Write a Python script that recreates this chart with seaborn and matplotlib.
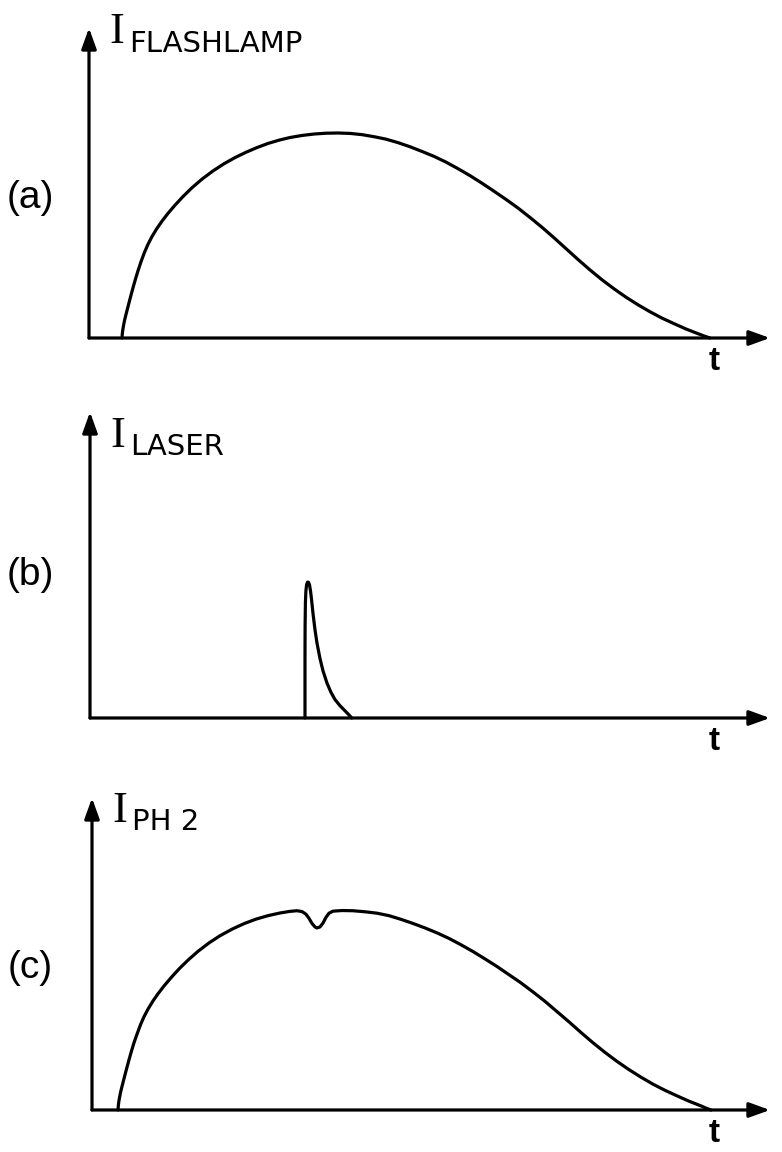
import matplotlib
matplotlib.use("Agg")
import matplotlib.pyplot as plt
import seaborn as sns

# --- waveform samples (time in a.u., intensity in a.u.) ---
flash_t = [0.33, 0.333, 0.338, 0.345, 0.355, 0.37, 0.39, 0.415, 0.44, 0.465,
           0.49, 0.52, 0.555, 0.59, 0.63, 0.68, 0.73, 0.79, 0.86, 0.94,
           1.03, 1.13, 1.24, 1.35, 1.46, 1.57, 1.68, 1.79, 1.90, 2.01,
           2.13, 2.25, 2.37, 2.49, 2.61, 2.73, 2.85, 2.97, 3.09, 3.21,
           3.33, 3.45, 3.57, 3.69, 3.81, 3.93, 4.05, 4.17, 4.29, 4.41,
           4.53, 4.65, 4.77, 4.89, 5.01, 5.13, 5.25, 5.37, 5.49, 5.61,
           5.73, 5.85, 5.97, 6.09, 6.15, 6.21]
flash_i = [0.00, 0.02, 0.04, 0.06, 0.085, 0.115, 0.153, 0.20, 0.245, 0.288,
           0.328, 0.372, 0.418, 0.457, 0.495, 0.535, 0.57, 0.608, 0.648, 0.69,
           0.733, 0.775, 0.815, 0.85, 0.88, 0.906, 0.929, 0.949, 0.965, 0.978,
           0.988, 0.995, 0.999, 1.00, 0.998, 0.992, 0.982, 0.97, 0.953, 0.933,
           0.91, 0.886, 0.858, 0.826, 0.792, 0.755, 0.716, 0.676, 0.634, 0.588,
           0.54, 0.489, 0.436, 0.383, 0.332, 0.284, 0.24, 0.199, 0.162, 0.128,
           0.097, 0.07, 0.044, 0.021, 0.01, 0.00]

laser_t = [2.15, 2.15, 2.151, 2.154, 2.159, 2.166, 2.175, 2.185, 2.195, 2.205,
           2.215, 2.23, 2.25, 2.27, 2.30, 2.33, 2.37, 2.41, 2.45, 2.50,
           2.55, 2.59, 2.617]
laser_i = [0.00, 0.30, 0.45, 0.56, 0.62, 0.65, 0.663, 0.662, 0.65, 0.62,
           0.58, 0.51, 0.43, 0.365, 0.29, 0.23, 0.17, 0.125, 0.09, 0.06,
           0.035, 0.015, 0.00]

ph2_t = [0.26, 0.263, 0.268, 0.275, 0.285, 0.30, 0.32, 0.345, 0.37, 0.395,
         0.42, 0.45, 0.485, 0.52, 0.56, 0.61, 0.66, 0.72, 0.79, 0.87,
         0.96, 1.06, 1.17, 1.28, 1.40, 1.52, 1.64, 1.76, 1.88, 1.98,
         2.05, 2.10, 2.14, 2.17, 2.20, 2.23, 2.25, 2.28, 2.31, 2.34,
         2.37, 2.41, 2.50, 2.61, 2.73, 2.85, 2.97, 3.09, 3.21, 3.33,
         3.45, 3.57, 3.69, 3.81, 3.93, 4.05, 4.17, 4.29, 4.41, 4.53,
         4.65, 4.77, 4.89, 5.01, 5.13, 5.25, 5.37, 5.49, 5.61, 5.73,
         5.85, 5.97, 6.09, 6.14, 6.19]
ph2_i = [0.00, 0.02, 0.04, 0.06, 0.085, 0.115, 0.153, 0.20, 0.245, 0.288,
         0.328, 0.37, 0.416, 0.455, 0.492, 0.532, 0.567, 0.605, 0.645, 0.688,
         0.731, 0.774, 0.815, 0.85, 0.882, 0.909, 0.931, 0.948, 0.961, 0.969,
         0.972, 0.968, 0.955, 0.935, 0.91, 0.893, 0.888, 0.893, 0.912, 0.94,
         0.96, 0.97, 0.973, 0.972, 0.967, 0.96, 0.948, 0.93, 0.91, 0.888,
         0.864, 0.837, 0.806, 0.773, 0.737, 0.70, 0.66, 0.62, 0.576, 0.53,
         0.48, 0.43, 0.378, 0.328, 0.281, 0.237, 0.197, 0.16, 0.126, 0.096,
         0.069, 0.043, 0.02, 0.009, 0.00]

panel_tags = ["(a)", "(b)", "(c)"]
axis_names = ["FLASHLAMP", "LASER", "PH 2"]
time_label = "t"

# --- layout (pixels) ---
W, H = 782, 1152
X_TIP = 770          # right end of the time axes
PX_T = 100.0         # pixels per time unit
PX_I = 205.0         # pixels per intensity unit
layout = [
    dict(x0=89, base=338, top=28, sym_y=43, sub_y=52, tag_y=198, t_y=361),
    dict(x0=90, base=718, top=412, sym_y=447, sub_y=455, tag_y=575, t_y=741),
    dict(x0=92, base=1110, top=798, sym_y=822, sub_y=830, tag_y=968, t_y=1133),
]
series = [(flash_t, flash_i), (laser_t, laser_i), (ph2_t, ph2_i)]

sns.set_theme(style="white")
plt.rcParams["font.family"] = ["Liberation Sans", "DejaVu Sans"]

fig = plt.figure(figsize=(W / 100, H / 100), dpi=100)
fig.patch.set_facecolor("white")

LW = 2.3
arrow_kw = dict(arrowstyle="-|>,head_length=0.5,head_width=0.18",
                mutation_scale=25, lw=LW, color="black",
                shrinkA=0, shrinkB=0)


def fx(x):
    return x / W


def fy(y):
    return 1 - y / H


for (t, i), geo, tag, name in zip(series, layout, panel_tags, axis_names):
    x0, base, top = geo["x0"], geo["base"], geo["top"]
    ax = fig.add_axes([fx(x0), fy(base), (X_TIP - x0) / W, (base - top) / H])
    ax.set_xlim(0, (X_TIP - x0) / PX_T)
    ax.set_ylim(0, (base - top) / PX_I)
    ax.set_axis_off()

    sns.lineplot(x=t, y=i, ax=ax, color="black", lw=LW,
                 estimator=None, sort=False, clip_on=False)

    # time and intensity axes drawn as arrows
    ax.annotate("", xy=(1, 0), xytext=(0, 0), xycoords="axes fraction",
                arrowprops=arrow_kw, annotation_clip=False)
    ax.annotate("", xy=(0, 1), xytext=(0, 0), xycoords="axes fraction",
                arrowprops=arrow_kw, annotation_clip=False)

    # intensity symbol with subscript
    fig.text(fx(x0 + 20), fy(geo["sym_y"]), "I", family="Liberation Serif",
             fontsize=32, va="baseline", ha="left", color="black")
    fig.text(fx(x0 + 40), fy(geo["sub_y"]), name, family="DejaVu Sans",
             fontsize=21, va="baseline", ha="left", color="black")

    # panel tag and time label
    fig.text(fx(30), fy(geo["tag_y"]), tag, fontsize=28,
             va="center", ha="center", color="black")
    fig.text(fx(714), fy(geo["t_y"]), time_label, fontsize=24,
             fontweight="bold", va="center", ha="center", color="black")

fig.savefig("out.png", dpi=100, facecolor="white")
